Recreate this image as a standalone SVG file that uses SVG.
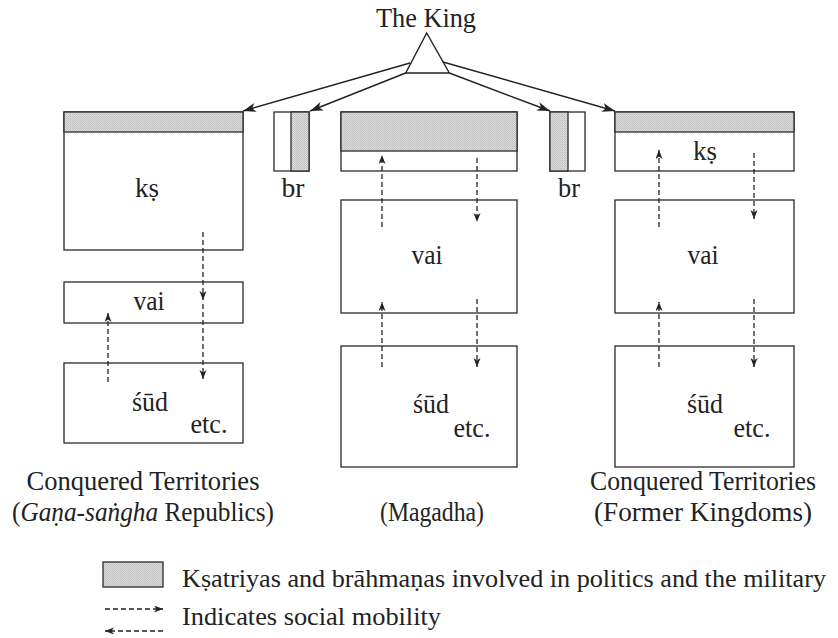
<svg xmlns="http://www.w3.org/2000/svg" width="838" height="638" viewBox="0 0 838 638">
  <style>
    text { font-family: "Liberation Serif", "Times New Roman", serif; font-size: 28px; fill: #222222; }
    .lbl { text-anchor: middle; }
    .cap { font-size: 27px; }
    .leg { font-size: 26px; }
    .box { fill: #ffffff; stroke: #2a2a2a; stroke-width: 1.3; }
    .shade { fill: url(#hatch); stroke: #2a2a2a; stroke-width: 1.3; }
    .solid { fill: none; stroke: #222222; stroke-width: 1.4; marker-end: url(#head); }
    .dash { fill: none; stroke: #222222; stroke-width: 1.3; stroke-dasharray: 5 3; marker-end: url(#dhead); }
  </style>
  <defs>
    <pattern id="hatch" width="2" height="2" patternUnits="userSpaceOnUse">
      <rect width="2" height="2" fill="#dcdcdc"/>
      <rect width="1" height="1" fill="#bdbdbd"/>
      <rect x="1" y="1" width="1" height="1" fill="#c9c9c9"/>
    </pattern>
    <marker id="head" markerUnits="userSpaceOnUse" markerWidth="14" markerHeight="10" refX="13" refY="4.5" orient="auto">
      <path d="M0,0 L13,4.5 L0,9 L3.5,4.5 z" fill="#222222"/>
    </marker>
    <marker id="dhead" markerUnits="userSpaceOnUse" markerWidth="10" markerHeight="8" refX="9" refY="3.5" orient="auto">
      <path d="M0,0 L9,3.5 L0,7 L2.5,3.5 z" fill="#222222"/>
    </marker>
  </defs>

  <rect width="838" height="638" fill="#ffffff"/>

  <!-- the king -->
  <g id="king">
    <text class="lbl" x="426" y="27" textLength="100" lengthAdjust="spacingAndGlyphs">The King</text>
    <path d="M426.7,33 L449.3,73 L405.7,73 Z" fill="#ffffff" stroke="#222222" stroke-width="1.4"/>
  </g>

  <!-- left column: conquered republics -->
  <g id="left-ks">
    <rect class="box" x="64" y="112" width="179" height="138"/>
    <rect class="shade" x="64" y="112" width="179" height="20"/>
    <text class="lbl" x="147" y="197" textLength="24" lengthAdjust="spacingAndGlyphs">kṣ</text>
  </g>
  <g id="left-vai">
    <rect class="box" x="64" y="282" width="179" height="41"/>
    <text class="lbl" x="149" y="310" textLength="31" lengthAdjust="spacingAndGlyphs">vai</text>
  </g>
  <g id="left-sud">
    <rect class="box" x="64" y="363" width="179" height="80"/>
    <text class="lbl" x="150" y="411" textLength="36" lengthAdjust="spacingAndGlyphs">śūd</text>
    <text class="lbl" x="209" y="433" textLength="37" lengthAdjust="spacingAndGlyphs">etc.</text>
  </g>
  <g id="left-caption">
    <text class="lbl cap" x="143" y="490" textLength="233" lengthAdjust="spacingAndGlyphs">Conquered Territories</text>
    <text class="lbl cap" x="143" y="521" textLength="262" lengthAdjust="spacingAndGlyphs">(<tspan font-style="italic">Gaṇa-saṅgha</tspan> Republics)</text>
  </g>

  <!-- brahmanas beside the left column -->
  <g id="left-br">
    <rect class="box" x="274" y="112" width="35" height="59"/>
    <rect class="shade" x="291" y="112" width="18" height="59"/>
    <text class="lbl" x="293" y="197" textLength="23" lengthAdjust="spacingAndGlyphs">br</text>
  </g>

  <!-- middle column: Magadha -->
  <g id="mid-ks">
    <rect class="box" x="341" y="112" width="176" height="59"/>
    <rect class="shade" x="341" y="112" width="176" height="39"/>
  </g>
  <g id="mid-vai">
    <rect class="box" x="341" y="200" width="176" height="113"/>
    <text class="lbl" x="427" y="264" textLength="31" lengthAdjust="spacingAndGlyphs">vai</text>
  </g>
  <g id="mid-sud">
    <rect class="box" x="341" y="346" width="176" height="121"/>
    <text class="lbl" x="431" y="413" textLength="36" lengthAdjust="spacingAndGlyphs">śūd</text>
    <text class="lbl" x="472" y="437" textLength="37" lengthAdjust="spacingAndGlyphs">etc.</text>
  </g>
  <g id="mid-caption">
    <text class="lbl cap" x="432" y="521" textLength="104" lengthAdjust="spacingAndGlyphs">(Magadha)</text>
  </g>

  <!-- brahmanas beside the right column -->
  <g id="right-br">
    <rect class="box" x="550" y="112" width="35" height="59"/>
    <rect class="shade" x="550" y="112" width="18" height="59"/>
    <text class="lbl" x="569" y="197" textLength="22" lengthAdjust="spacingAndGlyphs">br</text>
  </g>

  <!-- right column: former kingdoms -->
  <g id="right-ks">
    <rect class="box" x="615" y="112" width="179" height="59"/>
    <rect class="shade" x="615" y="112" width="179" height="20"/>
    <text class="lbl" x="705" y="160" textLength="24" lengthAdjust="spacingAndGlyphs">kṣ</text>
  </g>
  <g id="right-vai">
    <rect class="box" x="615" y="200" width="179" height="113"/>
    <text class="lbl" x="703" y="264" textLength="31" lengthAdjust="spacingAndGlyphs">vai</text>
  </g>
  <g id="right-sud">
    <rect class="box" x="615" y="346" width="179" height="121"/>
    <text class="lbl" x="705" y="413" textLength="36" lengthAdjust="spacingAndGlyphs">śūd</text>
    <text class="lbl" x="752" y="437" textLength="37" lengthAdjust="spacingAndGlyphs">etc.</text>
  </g>
  <g id="right-caption">
    <text class="lbl cap" x="703" y="490" textLength="226" lengthAdjust="spacingAndGlyphs">Conquered Territories</text>
    <text class="lbl cap" x="703" y="521" textLength="218" lengthAdjust="spacingAndGlyphs">(Former Kingdoms)</text>
  </g>

  <!-- connectors -->
  <g id="connectors">
    <line class="solid" x1="410" y1="63" x2="243" y2="111"/>
    <line class="solid" x1="405.7" y1="73" x2="310" y2="111"/>
    <line class="solid" x1="449.3" y1="73" x2="550" y2="111"/>
    <line class="solid" x1="443" y1="62" x2="615" y2="111"/>

    <!-- left column mobility -->
    <line class="dash" x1="203" y1="232" x2="203" y2="300"/>
    <line class="dash" x1="203" y1="304" x2="203" y2="379"/>
    <line class="dash" x1="108" y1="382" x2="108" y2="313"/>

    <!-- middle column mobility -->
    <line class="dash" x1="382" y1="227" x2="382" y2="155"/>
    <line class="dash" x1="477" y1="158" x2="477" y2="222"/>
    <line class="dash" x1="382" y1="367" x2="382" y2="302"/>
    <line class="dash" x1="477" y1="299" x2="477" y2="367"/>

    <!-- right column mobility -->
    <line class="dash" x1="659" y1="227" x2="659" y2="150"/>
    <line class="dash" x1="754" y1="153" x2="754" y2="219"/>
    <line class="dash" x1="659" y1="367" x2="659" y2="302"/>
    <line class="dash" x1="754" y1="299" x2="754" y2="367"/>
  </g>

  <!-- legend -->
  <g id="legend">
    <rect class="shade" x="103" y="562" width="60" height="25"/>
    <text class="leg" x="182" y="587" textLength="644" lengthAdjust="spacingAndGlyphs">Kṣatriyas and brāhmaṇas involved in politics and the military</text>
    <line class="dash" x1="105" y1="609" x2="163" y2="609"/>
    <line class="dash" x1="163" y1="631" x2="105" y2="631"/>
    <text class="leg" x="182" y="625" textLength="259" lengthAdjust="spacingAndGlyphs">Indicates social mobility</text>
  </g>
</svg>
